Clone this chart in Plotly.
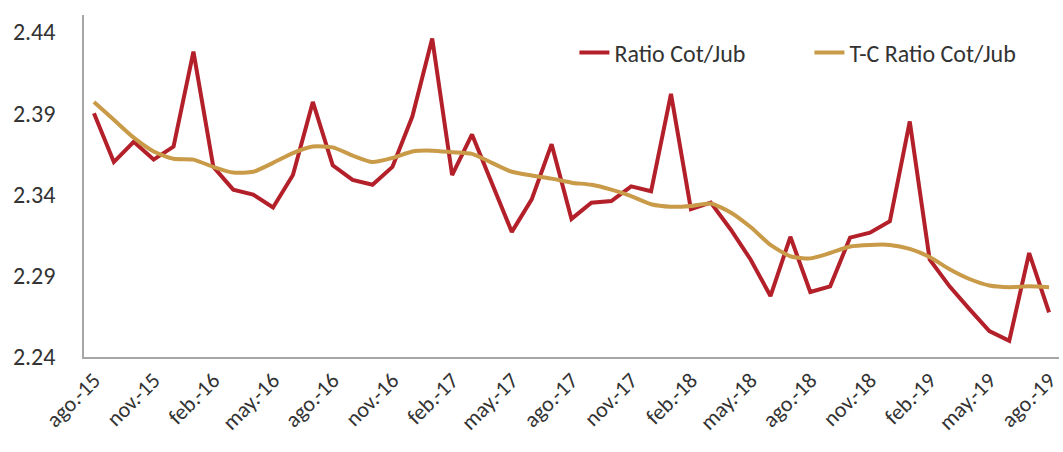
import plotly.graph_objects as go

months_es = ["ene.", "feb.", "mar.", "abr.", "may.", "jun.", "jul.", "ago.", "sep.", "oct.", "nov.", "dic."]
categories = []
m, yr = 7, 15
for _ in range(49):
    categories.append(f"{months_es[m]}-{yr}")
    m += 1
    if m == 12:
        m, yr = 0, yr + 1

ratio = [2.390, 2.360, 2.3725, 2.3615, 2.3695, 2.428, 2.357, 2.343, 2.340, 2.332,
         2.352, 2.397, 2.358, 2.349, 2.346, 2.357, 2.388, 2.436, 2.352, 2.377,
         2.347, 2.317, 2.337, 2.371, 2.325, 2.335, 2.336, 2.345, 2.342, 2.402,
         2.331, 2.335, 2.3185, 2.300, 2.2775, 2.314, 2.280, 2.2835, 2.3135, 2.3165,
         2.3235, 2.385, 2.300, 2.2835, 2.2695, 2.256, 2.250, 2.304, 2.2675]

tc_ratio = [2.397, 2.386, 2.375, 2.3665, 2.362, 2.3615, 2.357, 2.3535, 2.354, 2.3595,
            2.3655, 2.3695, 2.369, 2.364, 2.360, 2.3625, 2.3665, 2.367, 2.366, 2.365,
            2.3595, 2.354, 2.3517, 2.3498, 2.3473, 2.346, 2.343, 2.339, 2.334, 2.3325,
            2.333, 2.3345, 2.329, 2.320, 2.309, 2.302, 2.3007, 2.304, 2.308, 2.309,
            2.309, 2.3065, 2.3015, 2.294, 2.288, 2.284, 2.283, 2.2835, 2.283]

tick_labels = categories[::3]
y_ticks = [2.24, 2.29, 2.34, 2.39, 2.44]

FONT = "Carlito, Liberation Sans, Arial, sans-serif"

fig = go.Figure()
fig.add_trace(go.Scatter(x=categories, y=ratio, mode="lines", name="Ratio Cot/Jub",
                         line=dict(color="#B3202A", width=4)))
fig.add_trace(go.Scatter(x=categories, y=tc_ratio, mode="lines", name="T-C Ratio Cot/Jub",
                         line=dict(color="#C99A48", width=4, shape="spline", smoothing=0.6)))

fig.update_layout(
    width=1063, height=452,
    margin=dict(l=84, r=4, t=15, b=95),
    paper_bgcolor="white", plot_bgcolor="white",
    font=dict(family=FONT, color="#333333"),
    showlegend=True,
    legend=dict(orientation="h", x=0.503, xanchor="left", y=0.955, yanchor="top",
                font=dict(size=24, color="#333333", family=FONT), bgcolor="rgba(0,0,0,0)",
                traceorder="normal", entrywidth=190, entrywidthmode="pixels"),
    xaxis=dict(type="category", categoryorder="array", categoryarray=categories,
               range=[-0.5, 48.5], tickmode="array", tickvals=tick_labels,
               ticktext=tick_labels, tickangle=-45, tickfont=dict(size=22, color="#333333"),
               showline=True, linecolor="#A6A6A6", linewidth=1.5, showgrid=False,
               ticks="", zeroline=False, automargin=False),
    yaxis=dict(range=[2.24, 2.4505], tickmode="array", tickvals=y_ticks,
               ticktext=[f"{v:.2f}" for v in y_ticks], tickfont=dict(size=24, color="#333333"),
               showline=True, linecolor="#A6A6A6", linewidth=1.5, showgrid=False,
               ticks="", zeroline=False, ticklabelstandoff=22, automargin=False),
)

fig.write_html("out.html", config={"displayModeBar": False},
               post_script="document.body.style.margin='0';")
